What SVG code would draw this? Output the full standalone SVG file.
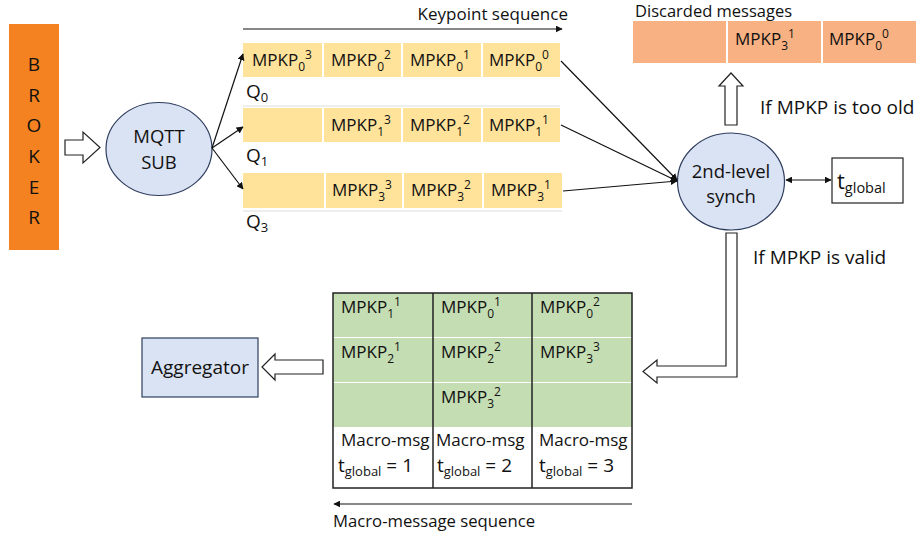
<svg xmlns="http://www.w3.org/2000/svg" width="916" height="537" viewBox="0 0 916 537">
<style>
text{font-family:"Open Sans","Liberation Sans",sans-serif;fill:#111;}
.t{font-size:17px;}
.l{font-size:18.5px;}
.b{font-size:19px;}
.s{font-size:12px;}
.s2{font-size:13px;}
.conn{stroke:#111;stroke-width:1.2;fill:none;}
.hollow{fill:#fff;stroke:#222;stroke-width:1.2;}
.ell{fill:#DAE3F3;stroke:#2E3D5E;stroke-width:1.2;}
.yel{fill:#FFE39B;}
.grn{fill:#C5DDB3;}
.org{fill:#F8B183;}
</style>
<defs>
<marker id="ah" viewBox="0 0 10 10" refX="9" refY="5" markerWidth="7" markerHeight="7" orient="auto-start-reverse" markerUnits="userSpaceOnUse"><path d="M0,0 L10,5 L0,10 z" fill="#111"/></marker>
</defs>

<g id="broker">
<rect x="9" y="24" width="50" height="226" fill="#F58220"/>
<text x="34" y="71" class="b" text-anchor="middle">B</text>
<text x="34" y="102" class="b" text-anchor="middle">R</text>
<text x="34" y="132" class="b" text-anchor="middle">O</text>
<text x="34" y="163" class="b" text-anchor="middle">K</text>
<text x="34" y="194" class="b" text-anchor="middle">E</text>
<text x="34" y="224" class="b" text-anchor="middle">R</text>
</g>

<g id="mqtt">
<ellipse cx="159" cy="149" rx="53" ry="46.5" class="ell"/>
<text x="159" y="143" class="l" text-anchor="middle">MQTT</text>
<text x="159" y="169" class="l" text-anchor="middle">SUB</text>
</g>

<g id="queue0">
<rect x="243" y="43" width="79" height="34" class="yel"/>
<rect x="324" y="43" width="77" height="34" class="yel"/>
<rect x="403" y="43" width="78" height="34" class="yel"/>
<rect x="483" y="43" width="77" height="34" class="yel"/>
<text x="252" y="66" class="t">MPKP<tspan class="s" dy="5">0</tspan><tspan class="s" dy="-12">3</tspan></text>
<text x="331" y="66" class="t">MPKP<tspan class="s" dy="5">0</tspan><tspan class="s" dy="-12">2</tspan></text>
<text x="410" y="66" class="t">MPKP<tspan class="s" dy="5">0</tspan><tspan class="s" dy="-12">1</tspan></text>
<text x="489" y="66" class="t">MPKP<tspan class="s" dy="5">0</tspan><tspan class="s" dy="-12">0</tspan></text>
<text x="246" y="98" class="b">Q<tspan class="s2" dy="4">0</tspan></text>
</g>

<g id="queue1">
<line x1="243" y1="106" x2="560" y2="106" stroke="#DDDDDD" stroke-width="1"/>
<rect x="243" y="108" width="79" height="34" class="yel"/>
<rect x="324" y="108" width="77" height="34" class="yel"/>
<rect x="403" y="108" width="78" height="34" class="yel"/>
<rect x="483" y="108" width="77" height="34" class="yel"/>
<text x="331" y="131" class="t">MPKP<tspan class="s" dy="5">1</tspan><tspan class="s" dy="-12">3</tspan></text>
<text x="410" y="131" class="t">MPKP<tspan class="s" dy="5">1</tspan><tspan class="s" dy="-12">2</tspan></text>
<text x="489" y="131" class="t">MPKP<tspan class="s" dy="5">1</tspan><tspan class="s" dy="-12">1</tspan></text>
<text x="246" y="162" class="b">Q<tspan class="s2" dy="4">1</tspan></text>
</g>

<g id="queue3">
<rect x="243" y="173" width="81" height="35" class="yel"/>
<rect x="326" y="173" width="76" height="35" class="yel"/>
<rect x="404" y="173" width="78" height="35" class="yel"/>
<rect x="484" y="173" width="78" height="35" class="yel"/>
<line x1="243" y1="211" x2="562" y2="211" stroke="#DDDDDD" stroke-width="1"/>
<text x="332" y="196" class="t">MPKP<tspan class="s" dy="5">3</tspan><tspan class="s" dy="-12">3</tspan></text>
<text x="411" y="196" class="t">MPKP<tspan class="s" dy="5">3</tspan><tspan class="s" dy="-12">2</tspan></text>
<text x="491" y="196" class="t">MPKP<tspan class="s" dy="5">3</tspan><tspan class="s" dy="-12">1</tspan></text>
<text x="246" y="228" class="b">Q<tspan class="s2" dy="4">3</tspan></text>
</g>

<g id="keypoint-seq">
<text x="568" y="20" class="t" text-anchor="end">Keypoint sequence</text>
</g>

<g id="discarded">
<text x="635" y="17" style="font-size:16.5px">Discarded messages</text>
<rect x="633" y="21" width="93" height="42" class="org"/>
<rect x="728" y="21" width="93" height="42" class="org"/>
<rect x="823" y="21" width="93" height="42" class="org"/>
<text x="735" y="45" class="t">MPKP<tspan class="s" dy="5">3</tspan><tspan class="s" dy="-12">1</tspan></text>
<text x="829" y="45" class="t">MPKP<tspan class="s" dy="5">0</tspan><tspan class="s" dy="-12">0</tspan></text>
</g>

<g id="synch">
<ellipse cx="731" cy="181.5" rx="53.5" ry="48.5" class="ell"/>
<text x="731" y="178" class="l" text-anchor="middle">2nd-level</text>
<text x="731" y="203" class="l" text-anchor="middle">synch</text>
</g>

<g id="tglobal">
<rect x="832" y="158" width="71" height="45" fill="#fff" stroke="#222" stroke-width="1.2"/>
<text x="837" y="189" style="font-size:22px">t<tspan style="font-size:14.5px" dy="4">global</tspan></text>
</g>

<g id="labels">
<text x="760" y="114" class="b">If MPKP is too old</text>
<text x="753" y="264" class="b">If MPKP is valid</text>
</g>

<g id="macro-table">
<rect x="333" y="293" width="299" height="134" class="grn"/>
<line x1="333" y1="337.5" x2="632" y2="337.5" stroke="#fff" stroke-width="1.2"/>
<line x1="333" y1="382.5" x2="632" y2="382.5" stroke="#fff" stroke-width="1.2"/>
<rect x="333" y="293" width="299" height="195" fill="none" stroke="#222" stroke-width="1.5"/>
<line x1="433" y1="293" x2="433" y2="488" stroke="#222" stroke-width="1.5"/>
<line x1="532" y1="293" x2="532" y2="488" stroke="#222" stroke-width="1.5"/>
<text x="341" y="313" class="t">MPKP<tspan class="s" dy="5">1</tspan><tspan class="s" dy="-12">1</tspan></text>
<text x="341" y="358" class="t">MPKP<tspan class="s" dy="5">2</tspan><tspan class="s" dy="-12">1</tspan></text>
<text x="441" y="313" class="t">MPKP<tspan class="s" dy="5">0</tspan><tspan class="s" dy="-12">1</tspan></text>
<text x="441" y="358" class="t">MPKP<tspan class="s" dy="5">2</tspan><tspan class="s" dy="-12">2</tspan></text>
<text x="441" y="403" class="t">MPKP<tspan class="s" dy="5">3</tspan><tspan class="s" dy="-12">2</tspan></text>
<text x="540" y="313" class="t">MPKP<tspan class="s" dy="5">0</tspan><tspan class="s" dy="-12">2</tspan></text>
<text x="540" y="358" class="t">MPKP<tspan class="s" dy="5">3</tspan><tspan class="s" dy="-12">3</tspan></text>
<text x="341" y="446" class="t">Macro-msg</text>
<text x="338" y="472" class="b">t<tspan class="s2" dy="4">global</tspan><tspan dy="-4"> = 1</tspan></text>
<text x="436" y="446" class="t">Macro-msg</text>
<text x="437" y="472" class="b">t<tspan class="s2" dy="4">global</tspan><tspan dy="-4"> = 2</tspan></text>
<text x="539" y="446" class="t">Macro-msg</text>
<text x="539" y="472" class="b">t<tspan class="s2" dy="4">global</tspan><tspan dy="-4"> = 3</tspan></text>
</g>

<g id="macro-seq">
<text x="333" y="527" style="font-size:16.7px">Macro-message sequence</text>
</g>

<g id="aggregator">
<rect x="142" y="338" width="116" height="59" fill="#DAE3F3" stroke="#2E3D5E" stroke-width="1.2"/>
<text x="200" y="374" class="b" text-anchor="middle">Aggregator</text>
</g>

<g id="connectors">
<path class="hollow" d="M65,140 H83 V132 L100,147.5 L83,163 V155 H65 Z"/>
<line class="conn" x1="212" y1="148" x2="243" y2="54" marker-end="url(#ah)"/>
<line class="conn" x1="212" y1="148" x2="243" y2="127" marker-end="url(#ah)"/>
<line class="conn" x1="212" y1="148" x2="243" y2="189" marker-end="url(#ah)"/>
<line class="conn" x1="243" y1="29" x2="562" y2="29" marker-end="url(#ah)"/>
<line class="conn" x1="561" y1="61" x2="677" y2="180" marker-end="url(#ah)"/>
<line class="conn" x1="561" y1="125" x2="677" y2="181" marker-end="url(#ah)"/>
<line class="conn" x1="563" y1="191" x2="677" y2="181" marker-end="url(#ah)"/>
<line class="conn" x1="786" y1="180" x2="831" y2="180" marker-start="url(#ah)" marker-end="url(#ah)"/>
<path class="hollow" d="M725,125 V86 H719 L731,73 L743,86 H737 V125 Z"/>
<path class="hollow" d="M726,233 H737 V377 H657 V383 L643,371.5 L657,360 V366 H726 Z"/>
<path class="hollow" d="M323,360 H275 V354 L262,367 L275,380 V374 H323 Z"/>
<line class="conn" x1="632" y1="504" x2="334" y2="504" marker-end="url(#ah)"/>
</g>
</svg>
